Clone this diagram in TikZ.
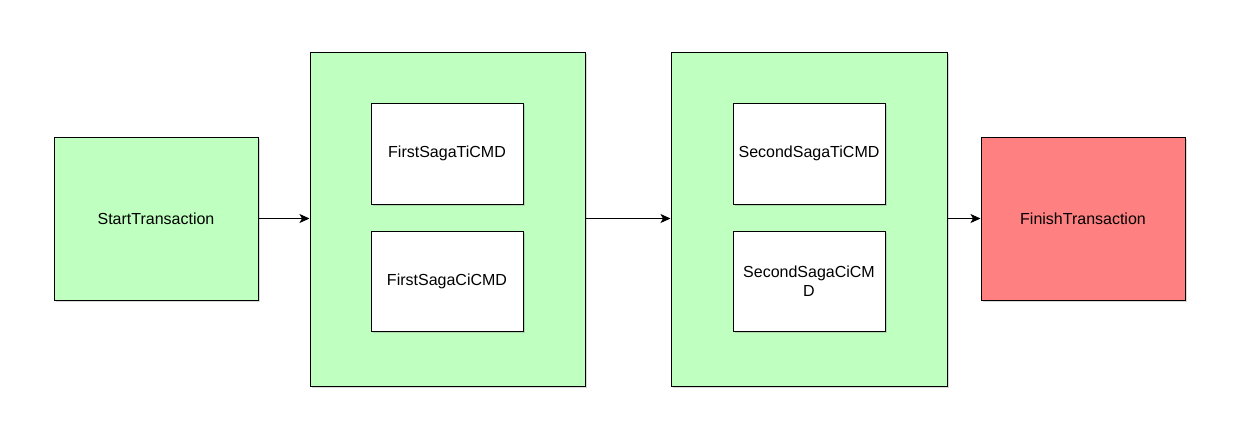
\documentclass[tikz,border=0pt]{standalone}
\usepackage{fontspec}
\setmainfont{Liberation Sans}
\usetikzlibrary{arrows.meta,shadows}
\definecolor{lgreen}{RGB}{191,255,191}
\definecolor{lred}{RGB}{255,128,128}
\begin{document}
\begin{tikzpicture}[x=1pt,y=-1pt,
  box/.style={draw=black,line width=1pt,inner sep=0pt,align=center,font=\fontsize{16}{19}\selectfont,
    drop shadow={opacity=0.3,shadow xshift=1.5pt,shadow yshift=-2pt}},
  conn/.style={draw=black,line width=1pt,-{Stealth[length=10pt,width=9pt,inset=2.5pt]}}]
\useasboundingbox (0,0) rectangle (1238,442);
\fill[white] (0,0) rectangle (1238,442);
\node[box,fill=lgreen,minimum width=204pt,minimum height=163pt] (start) at (156,218.5) {StartTransaction};
\node[box,fill=lgreen,minimum width=275pt,minimum height=334pt] (g1) at (447.5,219) {};
\node[box,fill=white,minimum width=152pt,minimum height=101pt] (t1) at (447,153.5) {FirstSagaTiCMD};
\node[box,fill=white,minimum width=152pt,minimum height=100pt] (c1) at (447,281) {FirstSagaCiCMD};
\node[box,fill=lgreen,minimum width=276pt,minimum height=334pt] (g2) at (809,219) {};
\node[box,fill=white,minimum width=152pt,minimum height=101pt] (t2) at (809,153.5) {SecondSagaTiCMD};
\node[box,fill=white,minimum width=152pt,minimum height=100pt] (c2) at (809,281) {SecondSagaCiCM\\D};
\node[box,fill=lred,minimum width=204pt,minimum height=163pt] (fin) at (1083,218.5) {FinishTransaction};
\draw[conn] (start.east) -- (start.east -| g1.west);
\draw[conn] (g1.east |- start.east) -- (g2.west |- start.east);
\draw[conn] (g2.east |- fin.west) -- (fin.west);
\end{tikzpicture}
\end{document}
